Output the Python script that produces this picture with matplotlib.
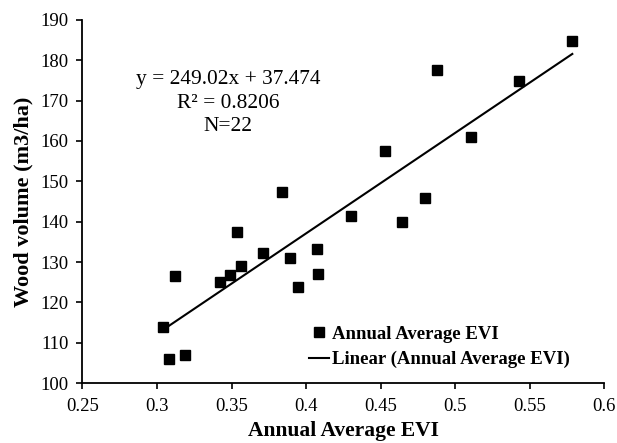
import matplotlib.pyplot as plt
import numpy as np

plt.rcParams['font.family'] = ['Liberation Serif', 'DejaVu Serif']

# annual average EVI vs wood volume
evi = [0.5787, 0.4877, 0.5430, 0.5107, 0.4530, 0.3840, 0.4799, 0.4300,
       0.4646, 0.3535, 0.3710, 0.4072, 0.3890, 0.3564, 0.3123, 0.3488,
       0.3425, 0.4078, 0.3944, 0.3042, 0.3081, 0.3188]
wood = [184.7, 177.7, 174.9, 161.0, 157.6, 147.3, 145.8, 141.5,
        140.0, 137.4, 132.3, 133.2, 131.1, 129.1, 126.5, 126.7,
        125.1, 127.1, 123.7, 113.9, 106.0, 106.9]

slope, intercept = 249.02, 37.474
xticks = [0.25, 0.3, 0.35, 0.4, 0.45, 0.5, 0.55, 0.6]
xticklabels = ['0.25', '0.3', '0.35', '0.4', '0.45', '0.5', '0.55', '0.6']
yticks = list(range(100, 191, 10))

fig = plt.figure(figsize=(6.17, 4.43), dpi=100)
ax = fig.add_axes([0.1337, 0.1354, 0.8453, 0.8195])

ax.plot(evi, wood, 's', color='black', markersize=7, label='Annual Average EVI')
xl = np.array([min(evi), max(evi)])
ax.plot(xl, slope * xl + intercept, color='black', lw=1.5,
        label='Linear (Annual Average EVI)')

ax.set_xlim(0.25, 0.6)
ax.set_ylim(100, 190)
ax.set_xticks(xticks)
ax.set_xticklabels(xticklabels)
ax.set_yticks(yticks)
ax.tick_params(labelsize=13.5, length=4, width=1.2, color='black')
ax.tick_params(axis='x', pad=7)
ax.tick_params(axis='y', pad=6)
for s in ['top', 'right']:
    ax.spines[s].set_visible(False)
for s in ['left', 'bottom']:
    ax.spines[s].set_linewidth(1.3)

ax.set_xlabel('Annual Average EVI', fontsize=15.5, fontweight='bold', labelpad=4)
ax.set_ylabel('Wood volume (m3/ha)', fontsize=16, fontweight='bold', labelpad=5)

ax.text(0.279, 0.771, 'y = 249.02x + 37.474\nR² = 0.8206\nN=22',
        transform=ax.transAxes, ha='center', va='center', fontsize=15.4,
        linespacing=1.3)

ax.legend(loc='lower right', bbox_to_anchor=(0.935, 0.04), frameon=False,
          prop={'weight': 'bold', 'size': 13.5}, handlelength=1.1,
          handletextpad=0.15, labelspacing=0.45, borderpad=0, borderaxespad=0)

fig.savefig('out.png', dpi=100)
